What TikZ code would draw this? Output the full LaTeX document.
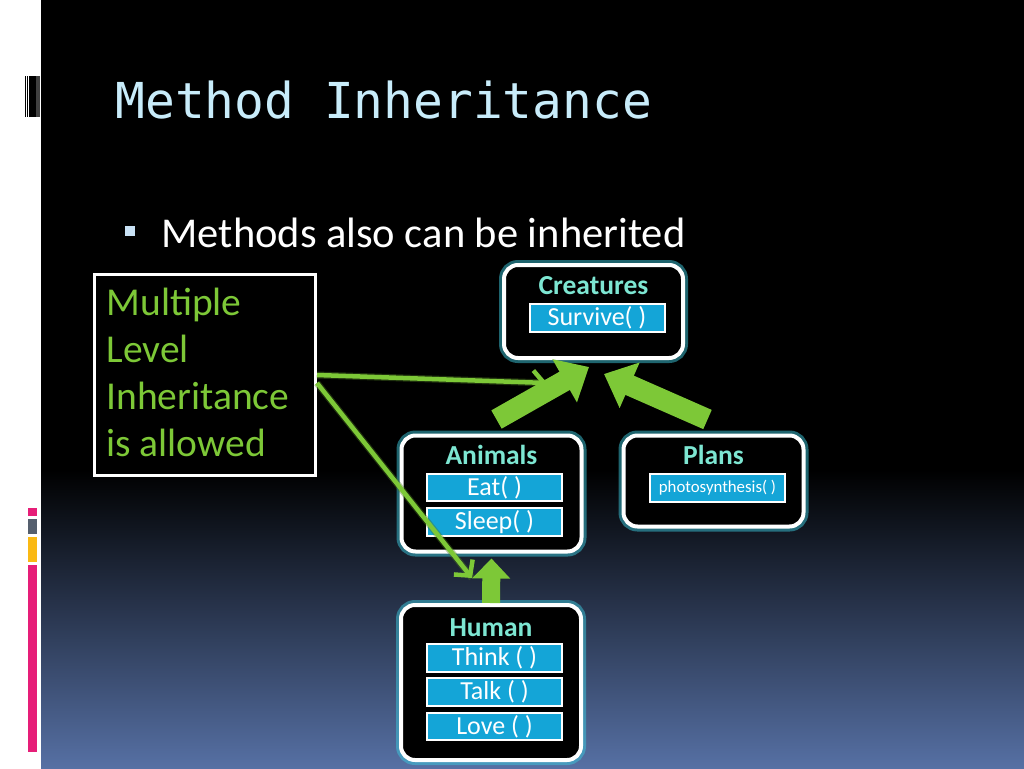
\documentclass[tikz,border=0pt]{standalone}
\usepackage{fontspec}
\setmainfont{Carlito}
\newfontfamily\monofont{DejaVu Sans Mono}
\usetikzlibrary{arrows.meta,calc}
\definecolor{slideBlue}{RGB}{86,112,164}
\definecolor{titleBlue}{RGB}{200,236,250}
\definecolor{bulletBlue}{RGB}{200,225,245}
\definecolor{clsTeal}{RGB}{125,230,210}
\definecolor{glowCyan}{RGB}{60,200,220}
\definecolor{mthBlue}{RGB}{20,165,215}
\definecolor{eGreen}{RGB}{125,200,55}
\definecolor{barPink}{RGB}{230,30,120}
\definecolor{barGray}{RGB}{85,95,110}
\definecolor{barOrange}{RGB}{250,185,20}
\tikzset{cls/.style={rectangle, rounded corners=14pt, draw=white, line width=4pt,
  fill=black, inner sep=0pt, preaction={draw=glowCyan, line width=10pt, opacity=.5}}}
\tikzset{ttl/.style={anchor=base, text=clsTeal, font=\bfseries\fontsize{27.5pt}{30pt}\selectfont}}
\tikzset{mth/.style={rectangle, draw=white, line width=2pt, fill=mthBlue, text=white,
  inner sep=0pt, minimum width=135pt, minimum height=27.5pt, font=\fontsize{26pt}{28pt}\selectfont}}
\tikzset{bigarr/.style={draw=eGreen, line width=21pt, -{Triangle[length=28pt,width=48pt]}}}
\tikzset{midarr/.style={draw=eGreen, line width=18pt, -{Triangle[length=20pt,width=37pt]}}}
\tikzset{thin/.style={draw=eGreen, line width=4.5pt, -{Straight Barb[length=11pt,width=24pt]},
  preaction={draw=eGreen!60!black, line width=7pt, opacity=.4, -}}}
\begin{document}
\begin{tikzpicture}[x=1pt,y=-1pt]
        \useasboundingbox (0,0) rectangle (1024,768);
        %% slide background
        \fill[white] (0,0) rectangle (41,768);
        \fill[black] (41,0) rectangle (1024,470);
        \shade[top color=black, bottom color=slideBlue] (41,470) rectangle (1024,768);
        \fill[black] (24.5,76) rectangle (25.5,117);
        \fill[black] (26.5,76) rectangle (27.5,117);
        \fill[black] (28.5,76) rectangle (32.5,117);
        \fill[black] (33.3,76) rectangle (35.5,117);
        \fill[black!75] (35.5,76) rectangle (40,117);
        \fill[barPink] (28,508) rectangle (37,516);
        \fill[barGray] (28,519) rectangle (37,534);
        \fill[barOrange] (28,537) rectangle (37,562);
        \fill[barPink] (28,565) rectangle (37,752);
        %% texts
        \node (title) at (112,118) [anchor=base west, text=titleBlue,
          font=\monofont\fontsize{49.5pt}{56pt}\selectfont] {Method Inheritance};
        \node (bul) at (130,230.5) [fill=bulletBlue, inner sep=0pt, minimum size=10pt] {};
        \node (point) at (158,247) [anchor=base west, text=white,
          font=\fontsize{42.5pt}{48pt}\selectfont] {Methods also can be inherited};
        \node (note) at (205,375) [draw=white, line width=3pt, fill=black,
          minimum width=221pt, minimum height=201pt] {};
        \foreach \ln [count=\i] in {Multiple, Level, Inheritance, is allowed}
            \node (n\i) at (103,268+47*\i) [anchor=base west, text=eGreen,
              font=\fontsize{39.5pt}{47pt}\selectfont] {\ln};
        %% classes
        \node (creatures) at (593.5,311.5) [cls, minimum width=179pt, minimum height=93pt] {};
        \node (creaturesT) at (593.5,294) [ttl] {Creatures};
        \node (survive) at (597,318) [mth] {Survive( )};
        \node (animals) at (491.5,493.5) [cls, minimum width=180pt, minimum height=116pt] {};
        \node (animalsT) at (491.5,464) [ttl] {Animals};
        \node (eat) at (494.5,487.5) [mth] {Eat( )};
        \node (sleep) at (494.5,522) [mth] {Sleep( )};
        \node (plans) at (713.5,481) [cls, minimum width=180pt, minimum height=91pt] {};
        \node (plansT) at (713.5,464) [ttl] {Plans};
        \node (photo) at (717.5,488) [mth, font=\fontsize{16.8pt}{18pt}\selectfont] {photosynthesis( )};
        \node (human) at (491,682.5) [cls, minimum width=180pt, minimum height=155pt] {};
        \node (humanT) at (491,636) [ttl] {Human};
        \node (think) at (494.5,658) [mth] {Think ( )};
        \node (talk) at (494.5,692) [mth] {Talk ( )};
        \node (love) at (494.5,726.5) [mth] {Love ( )};
        %% arrows
        \coordinate (tipA) at (547,383);
        \coordinate (tipH) at (472,578);
        \coordinate (inA) at (589,367);
        \coordinate (inP) at (604,374);
        \draw [thin] (note.east) to (tipA);
        \draw [thin] ([yshift=-8pt]note.east) to (tipH);
        \draw [bigarr] ($(animals.north)+(5,-14)$) to (inA);
        \draw [bigarr] ($(plans.north)+(-6,-14)$) to (inP);
        \draw [midarr] (human.north) to ($(animals.south)+(0,5)$);
    \end{tikzpicture}
\end{document}
